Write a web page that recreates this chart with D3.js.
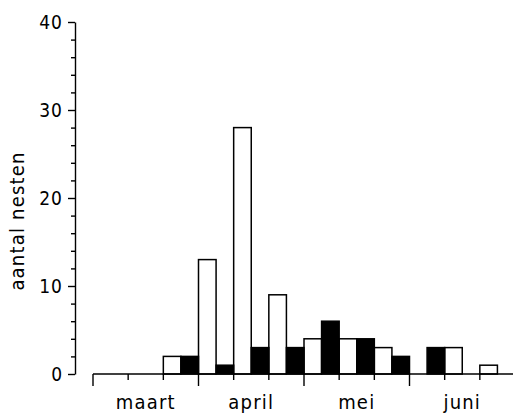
<!DOCTYPE html>
<html>
<head>
<meta charset="utf-8">
<script src="https://cdn.jsdelivr.net/npm/d3@7"></script>
<style>
  body { margin: 0; background: #fff; }
  text { font-family: "DejaVu Sans Condensed", "DejaVu Sans", sans-serif; fill: #000; }
</style>
</head>
<body>
<svg id="chart" width="513" height="415"></svg>
<script>
// Decades (10-day periods) from March to June
var months = ["maart", "april", "mei", "juni"];
var decades = d3.range(12);
// Two series per decade: open bars and filled bars
var openNests = [0, 0, 2, 13, 28, 9, 4, 4, 3, 0, 3, 1];
var filledNests = [0, 0, 2, 1, 3, 3, 6, 4, 2, 3, 0, 0];
var yTicks = [0, 10, 20, 30, 40];

var svg = d3.select("#chart");

var x = d3.scaleLinear().domain([0, 12]).range([93, 515]);
var y = d3.scaleLinear().domain([0, 40]).range([374, 22]);

// Y axis: labelled ticks every 10, minor ticks every 2
svg.append("g")
	.attr("transform", "translate(75,0)")
	.call(d3.axisLeft(y).tickValues(d3.range(0, 41, 2).filter(function(d) { return d % 10; }))
		.tickSize(4).tickFormat(""))
	.call(function(g) { g.select(".domain").remove(); });

svg.append("g")
	.attr("class", "yaxis")
	.attr("transform", "translate(75,0)")
	.call(d3.axisLeft(y).tickValues(yTicks).tickSize(7).tickSizeOuter(0).tickPadding(5))
	.call(function(g) {
		g.selectAll("text")
			.style("font-size", "19px")
			.style("letter-spacing", "1px")
			.style("font-family", null)
			.attr("dy", "0.36em");
	});

svg.selectAll("g line, g path").attr("stroke", "#000").attr("stroke-width", 1.4);

// Bars
function drawBars(values, offset, fill) {
	svg.selectAll(null)
		.data(decades.filter(function(i) { return values[i] > 0; }))
		.enter().append("rect")
		.attr("x", function(i) { return x(i + offset); })
		.attr("y", function(i) { return y(values[i]); })
		.attr("width", function(i) { return x(i + offset + 0.5) - x(i + offset); })
		.attr("height", function(i) { return y(0) - y(values[i]); })
		.attr("fill", fill)
		.attr("stroke", "#000")
		.attr("stroke-width", 1.5);
}
drawBars(openNests, 0, "#fff");
drawBars(filledNests, 0.5, "#000");

// X axis: baseline, decade ticks and month ticks
var xAxis = svg.append("g").attr("transform", "translate(0," + y(0) + ")");
xAxis.append("line")
	.attr("x1", x(0)).attr("x2", x(12))
	.attr("stroke", "#000").attr("stroke-width", 1.5);
xAxis.selectAll("line.tick")
	.data(d3.range(13))
	.enter().append("line")
	.attr("class", "tick")
	.attr("x1", function(d) { return x(d); })
	.attr("x2", function(d) { return x(d); })
	.attr("y1", 0)
	.attr("y2", function(d) { return d % 3 === 0 ? 12 : 6; })
	.attr("stroke", "#000").attr("stroke-width", 1.4);

xAxis.selectAll("text")
	.data(months)
	.enter().append("text")
	.attr("x", function(d, i) { return x(i * 3 + 1.5); })
	.attr("y", 35)
	.attr("text-anchor", "middle")
	.style("font-size", "20px")
	.style("letter-spacing", "1.2px")
	.text(function(d) { return d; });

// Y axis title
svg.append("text")
	.attr("transform", "translate(24,221) rotate(-90)")
	.attr("text-anchor", "middle")
	.style("font-size", "20px")
	.style("letter-spacing", "1.2px")
	.text("aantal nesten");
</script>
</body>
</html>
